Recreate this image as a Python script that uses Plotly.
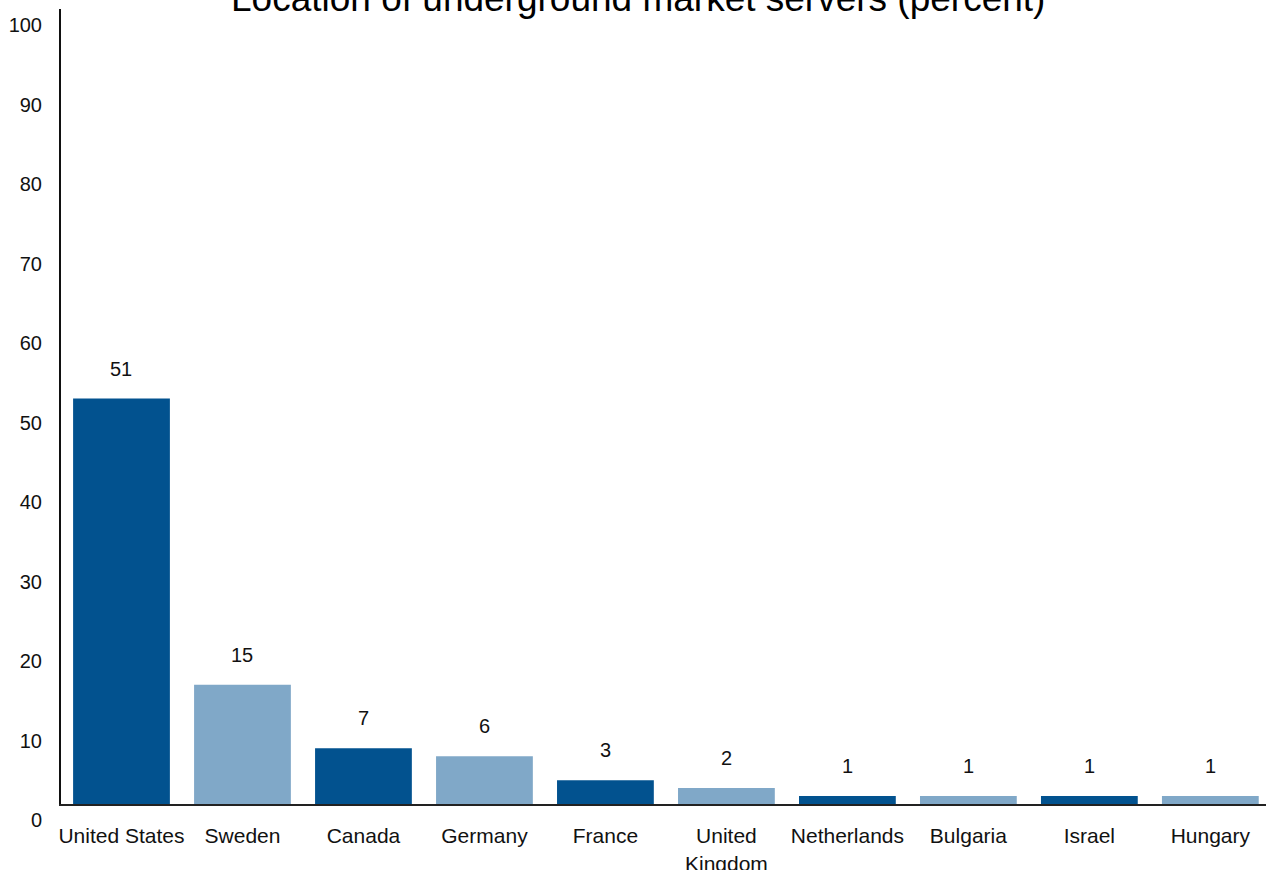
import plotly.graph_objects as go

categories = ["United States", "Sweden", "Canada", "Germany", "France",
              "United<br>Kingdom", "Netherlands", "Bulgaria", "Israel", "Hungary"]
values = [51, 15, 7, 6, 3, 2, 1, 1, 1, 1]
y_ticks = [0, 10, 20, 30, 40, 50, 60, 70, 80, 90, 100]
title_text = "Location of underground market servers (percent)"

DARK = "#02528F"
LIGHT = "#80A8C8"
bar_colors = [DARK if i % 2 == 0 else LIGHT for i in range(len(categories))]
FONT = "Liberation Sans, Arial, sans-serif"

fig = go.Figure()
fig.add_trace(go.Bar(
    x=categories, y=values,
    marker=dict(color=bar_colors, line=dict(width=0)),
    width=0.8,
    hoverinfo="skip",
))

for c, v in zip(categories, values):
    fig.add_annotation(x=c, y=v, xref="x", yref="y", text=str(v),
                       showarrow=False, yanchor="middle", yshift=30,
                       font=dict(family=FONT, size=20, color="#111"))

fig.add_annotation(x=(637.5 - 61) / 1205, y=1, xref="paper", yref="paper",
                   text=title_text, showarrow=False, xanchor="center",
                   yanchor="middle", yshift=11,
                   font=dict(family=FONT, size=37, color="#000"))

fig.update_layout(
    width=1266, height=870,
    margin=dict(l=61, r=0, t=9, b=66, autoexpand=False),
    paper_bgcolor="white", plot_bgcolor="white",
    showlegend=False,
    font=dict(family=FONT, color="#111"),
    xaxis=dict(
        range=[-0.5, 9.46], showgrid=False, zeroline=False, automargin=False,
        showline=True, linecolor="#222", linewidth=2,
        ticks="", tickfont=dict(family=FONT, size=21, color="#111"),
        ticklabelstandoff=12,
    ),
    yaxis=dict(
        range=[0, 100], showgrid=False, zeroline=False, automargin=False,
        showline=True, linecolor="#111", linewidth=2,
        tickvals=y_ticks, ticktext=[str(t) for t in y_ticks],
        ticks="", tickfont=dict(family=FONT, size=20, color="#111"),
        ticklabelstandoff=13, ticklabelshift=16,
    ),
)

fig.write_html("out.html")
